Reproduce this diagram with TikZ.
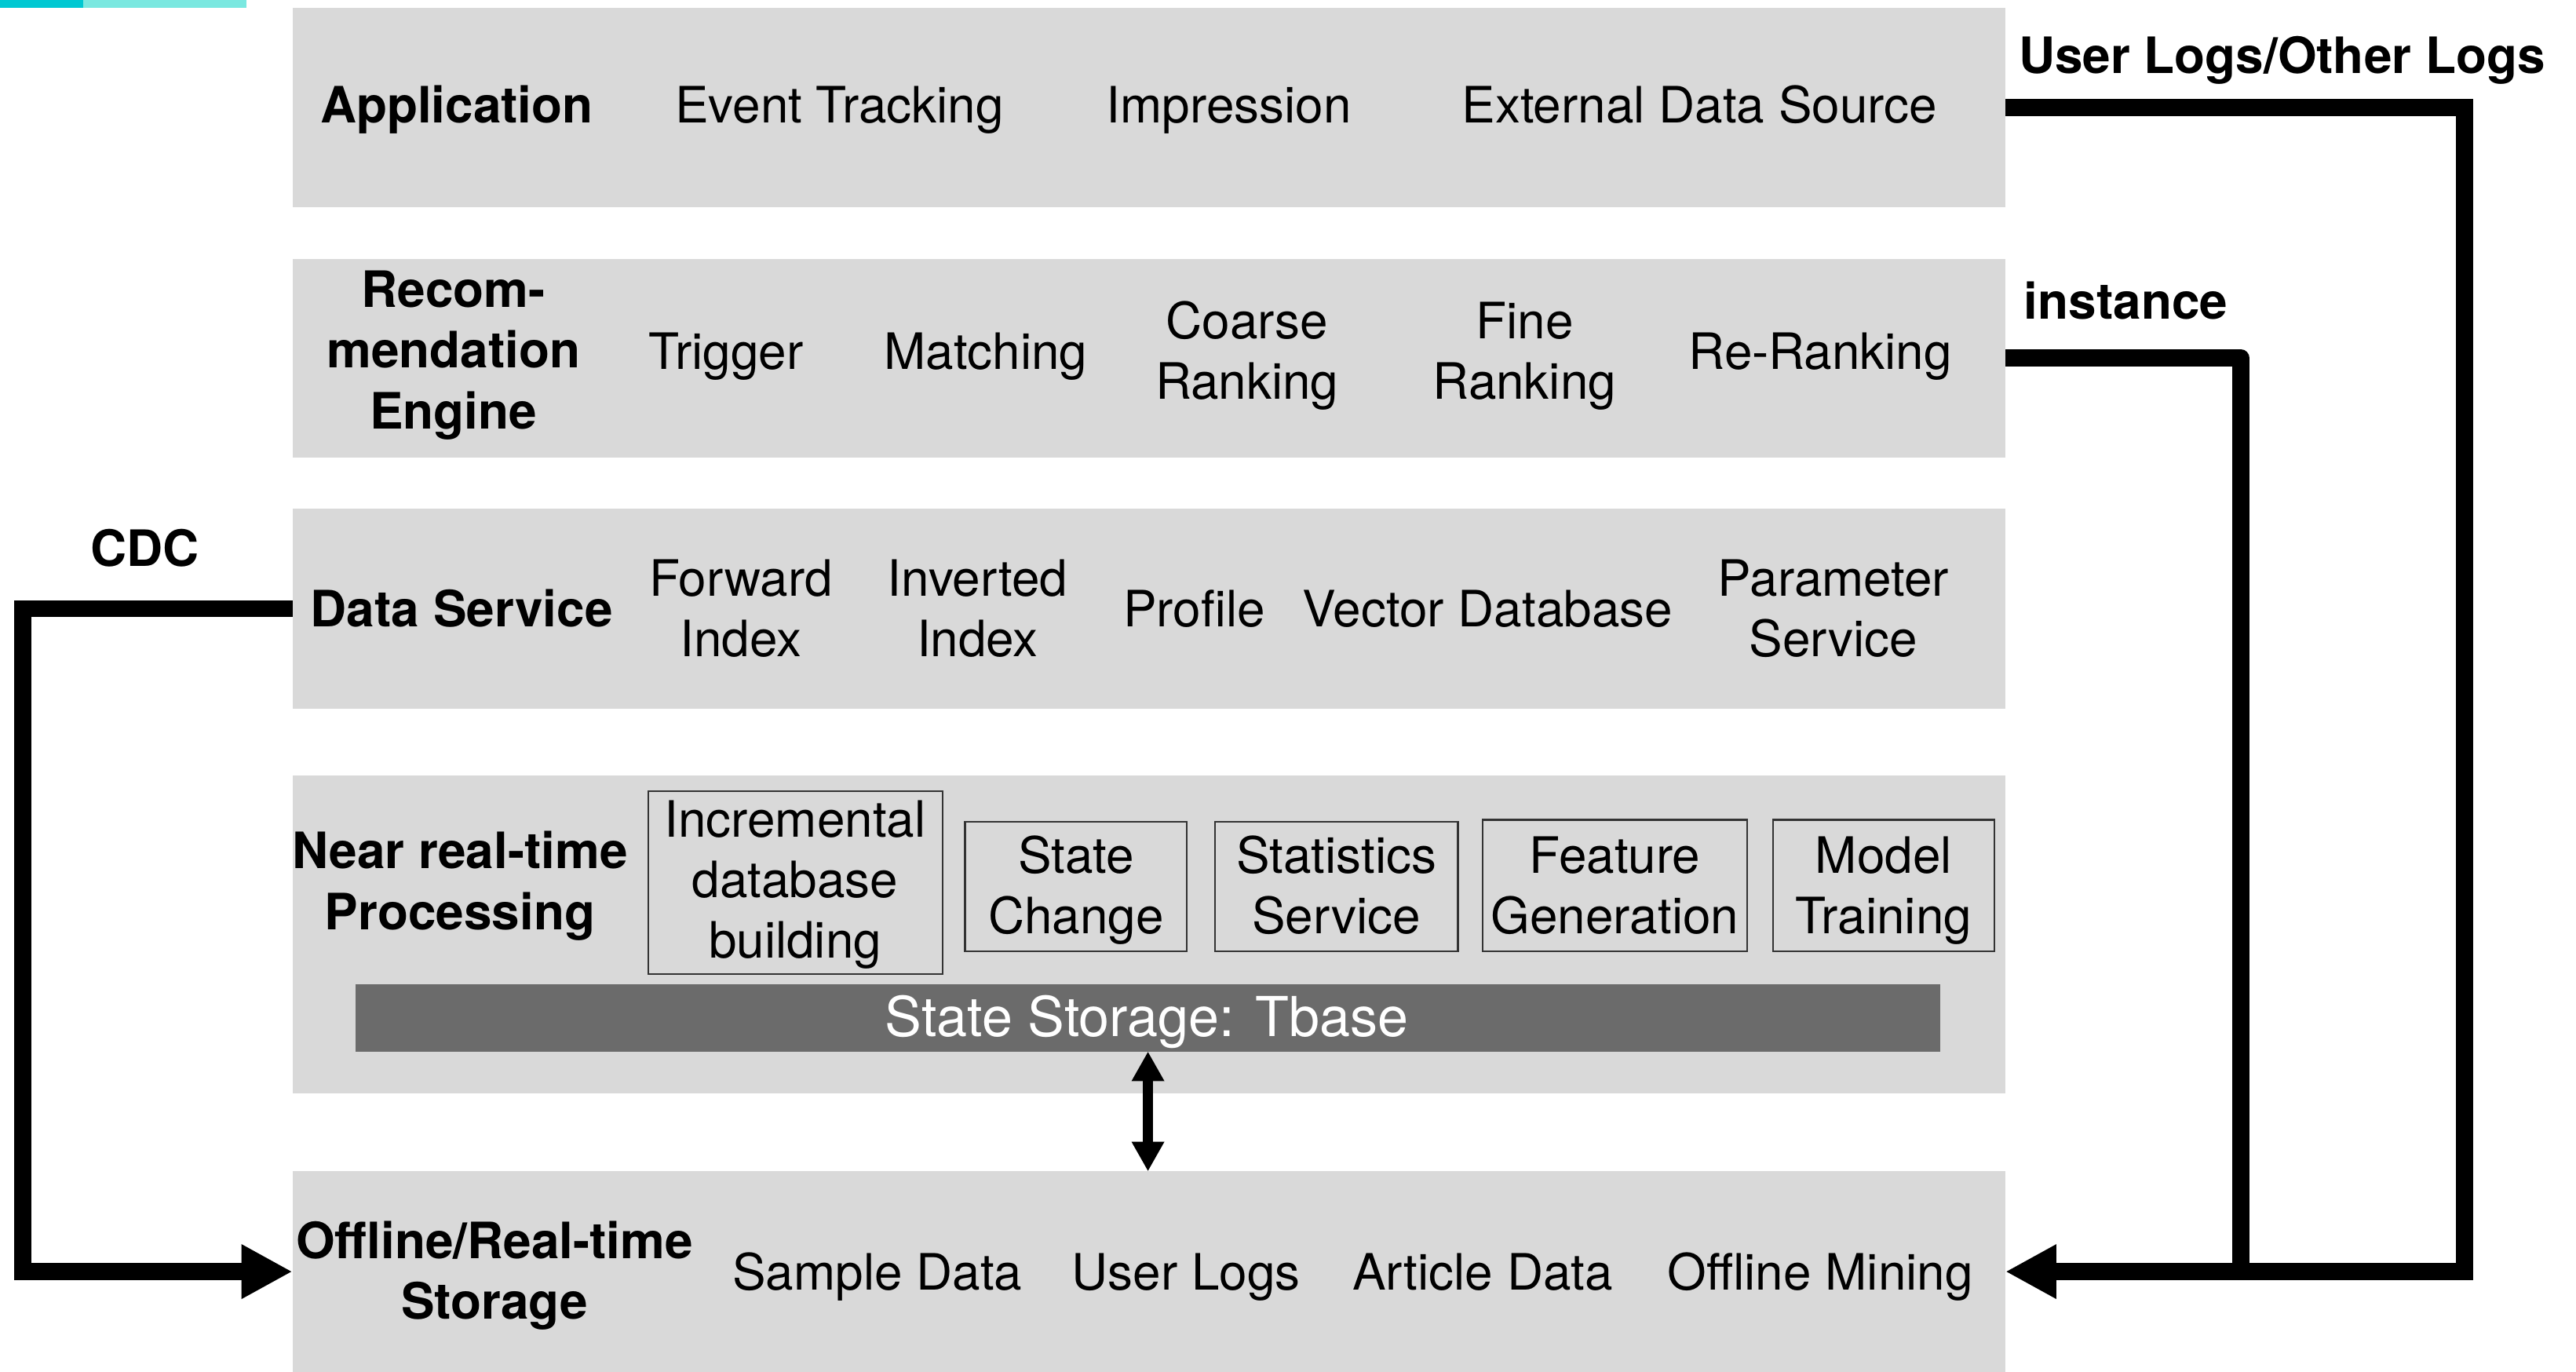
\documentclass[tikz,border=0pt]{standalone}
\usepackage{fontspec}
\setmainfont{TeX Gyre Heros}
\usetikzlibrary{arrows.meta}
\definecolor{boxgray}{HTML}{D9D9D9}
\definecolor{bargray}{HTML}{6B6B6B}
\definecolor{tealdark}{HTML}{00C8D2}
\definecolor{teallight}{HTML}{7AE8E0}
\begin{document}
\begin{tikzpicture}[x=1pt,y=-1pt,
  layer/.style={fill=boxgray, inner sep=0pt, outer sep=0pt, anchor=north west, minimum width=1042.7pt},
  subbox/.style={draw=black!80, line width=1pt, inner sep=0pt, outer sep=0pt, anchor=north west},
  txt/.style={font=\fontsize{30.5}{37}\selectfont, align=center, anchor=base, inner sep=0pt},
  btxt/.style={txt, font=\fontsize{30.5}{37}\selectfont\bfseries},
  bartxt/.style={txt, font=\fontsize{33.5}{40}\selectfont, text=white},
  conn/.style={line width=10.5pt, -{Triangle[length=31pt,width=31pt]}},
  plainconn/.style={line width=10.5pt, line join=round},
  dbl/.style={line width=6.5pt, {Triangle[length=18pt,width=18.6pt]}-{Triangle[length=18pt,width=18.6pt]}}
]
\useasboundingbox (0,0) rectangle (1568,835);
% teal accent
\fill[tealdark] (0,0) rectangle (50.7,4.8);
\fill[teallight] (50.7,0) rectangle (150,4.8);

% layers
\node[layer, minimum height=121pt] (app) at (178,5) {};
\node[layer, minimum height=121pt] (rec) at (178,157.5) {};
\node[layer, minimum height=122pt] (ds) at (178,309.5) {};
\node[layer, minimum height=193.7pt] (nrt) at (178,472) {};
\node[layer, minimum height=122pt] (off) at (178,713) {};

% sub boxes
\node[subbox, minimum width=179.1pt, minimum height=111.5pt] (inc) at (394.6,481.5) {};
\node[subbox, minimum width=134.9pt, minimum height=79pt] (sc) at (587.4,500) {};
\node[subbox, minimum width=147.7pt, minimum height=79pt] (st) at (739.7,500) {};
\node[subbox, minimum width=160.9pt, minimum height=80pt] (fg) at (902.6,499) {};
\node[subbox, minimum width=134.5pt, minimum height=80pt] (mt) at (1079.3,499) {};
\node[fill=bargray, inner sep=0pt, outer sep=0pt, anchor=north west, minimum width=964.5pt, minimum height=41pt] (bar) at (216.5,599) {};

% row 1
\node[btxt] (tApp) at (278,75) {Application};
\node[txt] (tEvt) at (511,75) {Event Tracking};
\node[txt] (tImp) at (748,75) {Impression};
\node[txt] (tExt) at (1034.5,75) {External Data Source};

% row 2 (base anchor = baseline of last line)
\node[btxt] (tRec) at (276,261) {Recom-\\mendation\\Engine};
\node[txt] (tTrig) at (442,224.6) {Trigger};
\node[txt] (tMat) at (600,224.6) {Matching};
\node[txt] (tCoa) at (759,243) {Coarse\\Ranking};
\node[txt] (tFin) at (928,243) {Fine\\Ranking};
\node[txt] (tRer) at (1108,224.6) {Re-Ranking};

% row 3
\node[btxt] (tDS) at (281,381.5) {Data Service};
\node[txt] (tFwd) at (451,399.8) {Forward\\Index};
\node[txt] (tInv) at (595,399.8) {Inverted\\Index};
\node[txt] (tPro) at (727,381.5) {Profile};
\node[txt] (tVec) at (905.5,381.5) {Vector Database};
\node[txt] (tPar) at (1116,399.8) {Parameter\\Service};

% row 4
\node[btxt] (tNrt) at (280,565.7) {Near real-time\\Processing};
\node[txt] (tInc) at (484,583.3) {Incremental\\database\\building};
\node[txt] (tSc) at (655,568.3) {State\\Change};
\node[txt] (tSt) at (813.5,568.3) {Statistics\\Service};
\node[txt] (tFg) at (983,568.3) {Feature\\Generation};
\node[txt] (tMt) at (1146.5,568.3) {Model\\Training};
\node[bartxt] (tBar) at (698,631) {State Storage: Tbase};

% row 5
\node[btxt] (tOff) at (301,803) {Offline/Real-time\\Storage};
\node[txt] (tSam) at (534,785) {Sample Data};
\node[txt] (tUL) at (722,785) {User Logs};
\node[txt] (tArt) at (902.5,785) {Article Data};
\node[txt] (tMin) at (1108,785) {Offline Mining};

% connector labels
\node[btxt] (lUL) at (1389,44.9) {User Logs/Other Logs};
\node[btxt] (lIn) at (1294,194) {instance};
\node[btxt] (lCDC) at (88,344.6) {CDC};

% connectors
\coordinate (cdcX) at (14,0);
\coordinate (ulX) at (1500,0);
\coordinate (inX) at (1364,0);
\draw[conn] (ds.west) -- (ds.west -| cdcX) |- (off.west);
\draw[conn] (app.east) -- (app.east -| ulX) |- (off.east);
\draw[plainconn] (rec.east) -- (rec.east -| inX) -- (inX |- off.east);
\draw[dbl] (bar.south) -- (bar.south |- off.north);
\end{tikzpicture}
\end{document}
